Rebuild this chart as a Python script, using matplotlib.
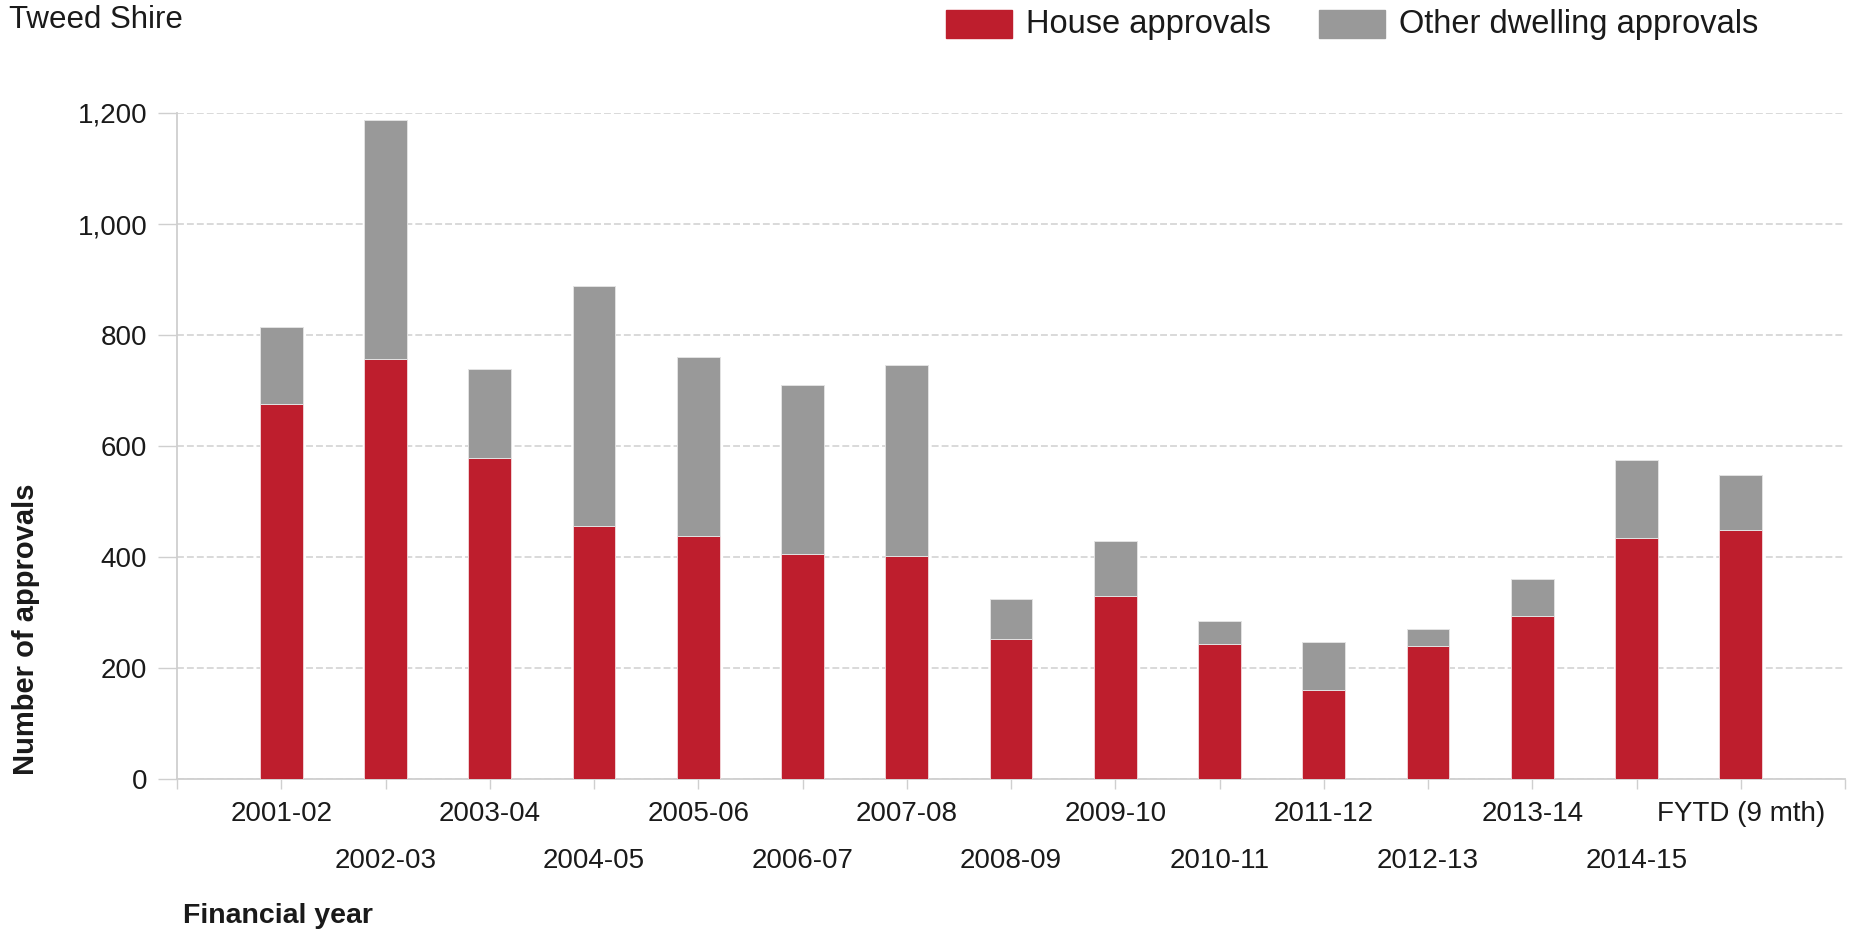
import numpy as np
import matplotlib
matplotlib.use("Agg")
import matplotlib.pyplot as plt
from matplotlib.patches import Rectangle
from matplotlib.transforms import ScaledTranslation

plt.rcParams['font.family'] = ['Liberation Sans', 'DejaVu Sans']

years = ["2001-02", "2002-03", "2003-04", "2004-05", "2005-06", "2006-07",
         "2007-08", "2008-09", "2009-10", "2010-11", "2011-12", "2012-13",
         "2013-14", "2014-15", "FYTD (9 mth)"]
house = [675, 756, 579, 456, 438, 406, 402, 252, 329, 243, 161, 240, 294, 435, 449]
other = [140, 432, 159, 432, 323, 304, 344, 72, 100, 41, 86, 31, 67, 140, 99]

red = "#BE1E2D"
grey = "#999999"
txt = "#1a1a1a"
light = "#cfcfcf"

W, H = 1852, 933
fig = plt.figure(figsize=(W / 100, H / 100), dpi=100)
ax = fig.add_axes([177 / W, 1 - 779 / H, (1845 - 177) / W, (779 - 113) / H])

x = np.arange(len(years))
ax.bar(x, house, width=0.41, color=red, edgecolor="#f0d0d3", linewidth=0.7, zorder=3)
ax.bar(x, other, bottom=house, width=0.41, color=grey, edgecolor="#e2e2e2",
       linewidth=0.7, zorder=3)

ax.set_xlim(-1, 15)
ax.set_ylim(0, 1200)
ax.set_yticks(range(0, 1201, 200))
ax.set_yticklabels([f"{v:,}" for v in range(0, 1201, 200)])
ax.yaxis.grid(True, color=light, linewidth=1.1, linestyle=(0, (4.5, 2)), zorder=0)

ax.set_xticks(range(-1, 16))
ax.set_xticklabels([""] + years + [""])

for s in ["top", "right"]:
    ax.spines[s].set_visible(False)
for s in ["left", "bottom"]:
    ax.spines[s].set_color(light)
    ax.spines[s].set_linewidth(1.3)

ax.tick_params(axis="x", length=7, width=1, color=light, pad=8.5,
               labelsize=20, labelcolor=txt)
ax.tick_params(axis="y", length=13.5, width=1, color=light, pad=8,
               labelsize=20, labelcolor=txt)

# every second year sits on a lower row
shift = ScaledTranslation(0, -47 / 100, fig.dpi_scale_trans)
for i, lab in enumerate(ax.get_xticklabels()):
    if i % 2 == 0:
        lab.set_transform(lab.get_transform() + shift)

fig.text(26 / W, 1 - 775 / H, "Number of approvals", rotation=90, ha="center",
         va="bottom", fontsize=21, fontweight="bold", color=txt)
fig.text(183 / W, 1 - 916 / H, "Financial year", ha="left", va="center",
         fontsize=20.5, fontweight="bold", color=txt)
fig.text(9 / W, 1 - 20 / H, "Tweed Shire", ha="left", va="center",
         fontsize=22.5, color=txt)

# legend
for x0, col, label in [(946, red, "House approvals"),
                       (1319, grey, "Other dwelling approvals")]:
    fig.add_artist(Rectangle((x0 / W, 1 - 38 / H), 66 / W, 28 / H,
                             transform=fig.transFigure, color=col))
    fig.text((x0 + 80) / W, 1 - 25 / H, label, ha="left", va="center",
             fontsize=23.5, color=txt)

fig.savefig("out.png", dpi=100, facecolor="white")
